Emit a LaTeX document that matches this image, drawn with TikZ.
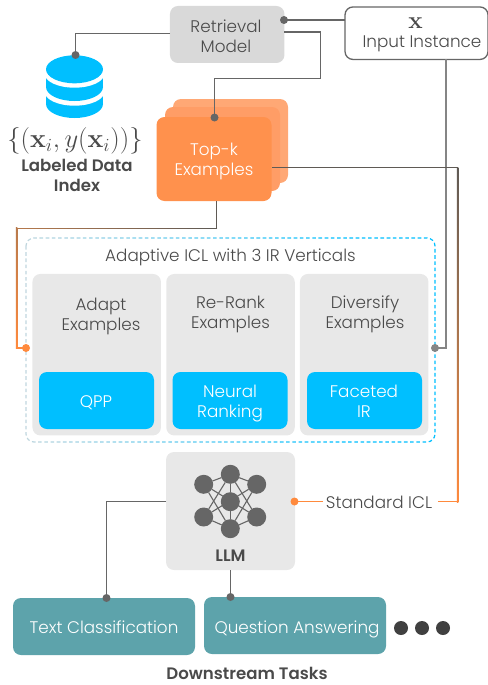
\documentclass[tikz,border=0pt]{standalone}
\usepackage[no-math]{fontspec}
\usepackage{graphicx}
\setmainfont{Poppins}[UprightFont=* Light,BoldFont=* SemiBold]
\definecolor{tx}{HTML}{4A4A4A}
\definecolor{ln}{HTML}{666666}
\definecolor{grayln}{HTML}{858585}
\definecolor{blu}{HTML}{00BFFF}
\definecolor{org}{HTML}{FF8A3D}
\definecolor{orgb}{HTML}{FF9D66}
\definecolor{orgc}{HTML}{FFA875}
\definecolor{orgf}{HTML}{FF914D}
\definecolor{brn}{HTML}{5F5A55}
\definecolor{brnb}{HTML}{B87A4C}
\definecolor{teal1}{HTML}{5DA3AB}
\definecolor{pale}{HTML}{C0D6DE}
\newcommand\strA{\rule{0pt}{11pt}}
\newcommand\strB{\rule[-4pt]{0pt}{4pt}}
\tikzset{
  every node/.style={inner sep=0pt,outer sep=0pt,align=center,text=tx,font=\fontsize{16.8}{20}\selectfont},
  tl/.style={execute at begin node=\strA,execute at end node=\strB,yshift=-2.5pt},
  rbox/.style={rectangle,rounded corners=8pt},
  panel/.style={rbox,fill=black!9,minimum width=128.5pt,minimum height=161.5pt},
  irbox/.style={rbox,fill=blu,minimum width=115pt,minimum height=57pt},
  topbox/.style={rbox,minimum width=115pt,minimum height=84pt},
  task/.style={rbox,fill=teal1,minimum width=182pt,minimum height=57pt},
  conn/.style={draw=ln,line width=1.5pt},
  grad/.style={line width=1.5pt},
  dotn/.style={circle,fill=ln,minimum size=8pt},
  net/.style={circle,fill=ln,minimum size=19pt},
  netl/.style={draw=ln,line width=1.1pt},
  bf/.style={tl,font=\fontsize{16.6}{20}\selectfont\bfseries}
}
\begin{document}
\begin{tikzpicture}[x=1pt,y=-1pt]
\useasboundingbox (0,0) rectangle (487,685);
% boxes
\node[rbox,fill=black!15,minimum width=114.5pt,minimum height=57pt] (retr) at (227.2,34.5) {};
\node[rbox,draw=ln,fill=white,line width=1.3pt,minimum width=143pt,minimum height=52.5pt] (input) at (416.5,33.2) {};
\node[tl] (retrt) at (226,35.5) {Retrieval\\Model};
\node (xsym) at (415.5,23) {\scalebox{1.4}{$\mathbf{x}$}};
\node[tl] (inputt) at (422,41) {Input Instance};
% database
\fill[blu] (46,91.7) rectangle (103,104);
\fill[blu] (74.5,104) ellipse (28.5pt and 14pt);
\fill[white] (74.5,91.7) ellipse (30pt and 14pt);
\fill[blu] (46,73.7) rectangle (103,87);
\fill[blu] (74.5,87) ellipse (28.5pt and 14pt);
\fill[white] (74.5,73.7) ellipse (30pt and 14pt);
\fill[blu] (74.5,69.3) ellipse (28.5pt and 14pt);
\coordinate (db) at (75.5,55);
\node (dbmath) at (75,141) {\scalebox{1.54}{$\big\{\big(\mathbf{x}_i,y(\mathbf{x}_i)\big)\big\}$}};
\node[bf] (dbt) at (77,175) {Labeled Data\\Index};
% top-k
\node[topbox,fill=orgc] (topc) at (230.5,141) {};
\node[topbox,fill=orgb] (topb) at (222.5,149) {};
\node[topbox,fill=orgf] (topk) at (214,159) {};
\node[tl,text=white] (topkt) at (214,158.5) {Top-k\\Examples};
% adaptive container
\foreach \i in {0,...,42}{
  \pgfmathtruncatemacro\p{min(100,\i*3.2)}
  \begin{scope}
    \clip (20+\i*10,232) rectangle ++(10.05,216);
    \draw[color=blu!\p!pale,line width=1.2pt,dash pattern=on 3.6pt off 2.6pt,rounded corners=8pt] (26,238) rectangle (435,442);
  \end{scope}
}
\node[tl] (adaptt) at (230.5,254.7) {Adaptive ICL with 3 IR Verticals};
\node[panel] (pa) at (96.7,354.7) {};
\node[panel] (pb) at (230.5,354.7) {};
\node[panel] (pc) at (364.2,354.7) {};
\node[tl] (pat) at (101,314) {Adapt\\Examples};
\node[tl] (pbt) at (230.5,312) {Re-Rank\\Examples};
\node[tl] (pct) at (365,312) {Diversify\\Examples};
\node[irbox] (qa) at (96.5,400.5) {};
\node[irbox] (qb) at (230,400.5) {};
\node[irbox] (qc) at (364.5,400.5) {};
\node[tl,text=white] (qat) at (96,401) {QPP};
\node[tl,text=white] (qbt) at (230,401) {Neural\\Ranking};
\node[tl,text=white] (qct) at (364,401) {Faceted\\IR};
% LLM
\node[rbox,fill=black!9,minimum width=129pt,minimum height=118pt] (llm) at (230.5,511) {};
\node[bf] (llmt) at (230.5,555) {LLM};
\foreach \n/\x/\y in {nt/230.3/474.3,nlu/203.7/484.3,nru/256.7/484.3,nc/230.3/501.7,nll/203.7/517,nrl/256.7/517,nb/230.3/528.7}
  \node[net] (\n) at (\x,\y) {};
\foreach \a/\b in {nt/nlu,nt/nru,nt/nc,nc/nb,nll/nb,nrl/nb,nlu/nb,nru/nb,nt/nll,nt/nrl,nlu/nrl,nru/nll}
  \draw[netl] (\a) -- (\b);
% tasks
\node[task] (tc) at (104,626.5) {};
\node[task] (qan) at (295,625.5) {};
\node[tl,text=white] (tct) at (104,627) {Text Classification};
\node[tl,text=white] (qant) at (297,627) {Question Answering};
\foreach \n/\x in {d1/401,d2/422,d3/443}
  \node[circle,fill=black!75,minimum size=14pt] (\n) at (\x,628) {};
\node[bf] (down) at (247,673.3) {Downstream Tasks};
\node[tl] (std) at (379,502) {Standard ICL};
% connector ports
\coordinate (c1) at (170,33.5);
\coordinate (c2) at (284,20);
\coordinate (c3) at (345,20);
\coordinate (c4) at (284,32);
\coordinate (c5) at (214.5,117.5);
\coordinate (c6) at (446,59.5);
\coordinate (c7) at (435,348);
\coordinate (c8) at (26,348);
\coordinate (c9) at (294.5,501.5);
\coordinate (c10) at (106.5,598);
\coordinate (c11) at (230.5,597);
\coordinate (c12) at (166,501.5);
\coordinate (c13) at (438,501.5);
\coordinate (c14) at (323,501.5);
% gray connectors
\draw[conn] (c1) -| (db);
\draw[conn] (c3) -- (c2);
\draw[conn] (c4) -| (320.5,78.5) -| (c5);
\draw[draw=grayln,line width=1.5pt] (c6) |- (c7);
\draw[conn] (c12) -| (c10);
\draw[conn] (c11 |- llm.south) -- (c11);
% gradient connector: top-k -> standard ICL
\draw[grad,draw=brn] (272,167.5) -- (458.25,167.5);
\shade[top color=brn,bottom color=org,middle color=brnb!85!brn] (456.75,167) rectangle (458.25,502.25);
\draw[grad,draw=org] (458.25,501.5) -- (c13);
\draw[grad,draw=org] (c14) -- (c9);
% gradient connector: top-k -> adapt
\draw[grad,draw=brn] (216.5,201) -- (216.5,229.25);
\foreach \i in {0,...,19}{
  \pgfmathtruncatemacro\p{\i*5}
  \draw[grad,draw=brnb!\p!brn] (217.25-\i*10,228.5) -- ++(-10.3,0);
}
\shade[top color=brnb,bottom color=org] (15.75,227.75) rectangle (17.25,348.75);
\draw[grad,draw=org] (15.75,348) -- (c8);
% dots
\node[dotn] at (c2) {};
\node[dotn] at (db) {};
\node[dotn] at (c5) {};
\node[dotn,fill=grayln] at (c7) {};
\node[dotn,fill=org] at (c8) {};
\node[dotn,fill=org] at (c9) {};
\node[dotn] at (c10) {};
\node[dotn] at (c11) {};
\end{tikzpicture}
\end{document}
